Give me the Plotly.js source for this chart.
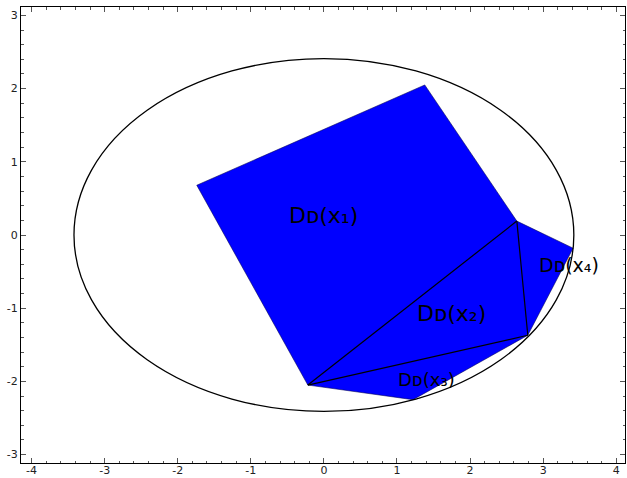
<!DOCTYPE html>
<html><head><meta charset="utf-8">
<script src="https://cdn.plot.ly/plotly-3.0.1.min.js"></script>
<style>body{margin:0;background:#fff}#plot{width:627px;height:478px}</style>
</head><body><div id="plot"></div>
<script>
// Polygon vertices (blue region)
const polyX = [-1.74, 1.38, 2.64, 3.41, 2.79, 1.22, -0.22];
const polyY = [0.68, 2.05, 0.19, -0.18, -1.37, -2.25, -2.05];
// Interior dividing segments (G-C, G-E, C-E)
const segX = [[-0.22, 2.64], [-0.22, 2.79], [2.64, 2.79]];
const segY = [[-2.05, 0.19], [-2.05, -1.37], [0.19, -1.37]];
// Ellipse semi-axes
const ellA = 3.42, ellB = 2.41;
// Tick labels
const xTickVals = [-4, -3, -2, -1, 0, 1, 2, 3, 4];
const xTickText = ["-4", "-3", "-2", "-1", "0", "1", "2", "3", "4"];
const yTickVals = [-3, -2, -1, 0, 1, 2, 3];
const yTickText = ["-3", "-2", "-1", "0", "1", "2", "3"];
// Region labels
const labelText = ["Dᴅ(x₁)", "Dᴅ(x₂)", "Dᴅ(x₃)", "Dᴅ(x₄)"];
const labelX = [-0.01, 1.75, 1.41, 3.35];
const labelY = [0.27, -1.07, -1.97, -0.41];
const labelSize = [22, 22, 18, 19];

const traces = [{
  type: 'scatter', mode: 'lines', x: polyX.concat([polyX[0]]), y: polyY.concat([polyY[0]]),
  fill: 'toself', fillcolor: '#0000ff', line: {color: 'rgba(0,0,80,0.7)', width: 0.8},
  hoverinfo: 'skip', showlegend: false
}];
segX.forEach((sx, i) => traces.push({
  type: 'scatter', mode: 'lines', x: sx, y: segY[i],
  line: {color: '#000', width: 1.2}, hoverinfo: 'skip', showlegend: false
}));

const annotations = labelText.map((t, i) => ({
  x: labelX[i], y: labelY[i], xref: 'x', yref: 'y', text: t, showarrow: false,
  font: {family: 'DejaVu Sans', size: labelSize[i], color: '#000'}
}));

const axisCommon = {
  showgrid: false, zeroline: false, showline: true, linecolor: '#000', linewidth: 1,
  mirror: 'ticks', ticks: 'inside', ticklen: 5, tickcolor: '#555', tickwidth: 1,
  tickmode: 'array', tickfont: {family: 'DejaVu Sans', size: 11, color: '#222'},
  minor: {tickmode: 'linear', dtick: 0.2, ticks: 'inside', ticklen: 2.5, tickcolor: '#555', tickwidth: 1}
};

const layout = {
  width: 627, height: 478,
  margin: {l: 21, r: 2, t: 7, b: 15},
  paper_bgcolor: '#fff', plot_bgcolor: '#fff',
  xaxis: Object.assign({}, axisCommon, {range: [-4.145, 4.12], tickvals: xTickVals, ticktext: xTickText, ticklabelstandoff: -3}),
  yaxis: Object.assign({}, axisCommon, {range: [-3.115, 3.115], tickvals: yTickVals, ticktext: yTickText}),
  shapes: [{type: 'circle', xref: 'x', yref: 'y', x0: -ellA, x1: ellA, y0: -ellB, y1: ellB,
            line: {color: '#000', width: 1.3}, layer: 'above'}],
  annotations: annotations
};
Plotly.newPlot('plot', traces, layout, {displayModeBar: false, staticPlot: true});
</script></body></html>
